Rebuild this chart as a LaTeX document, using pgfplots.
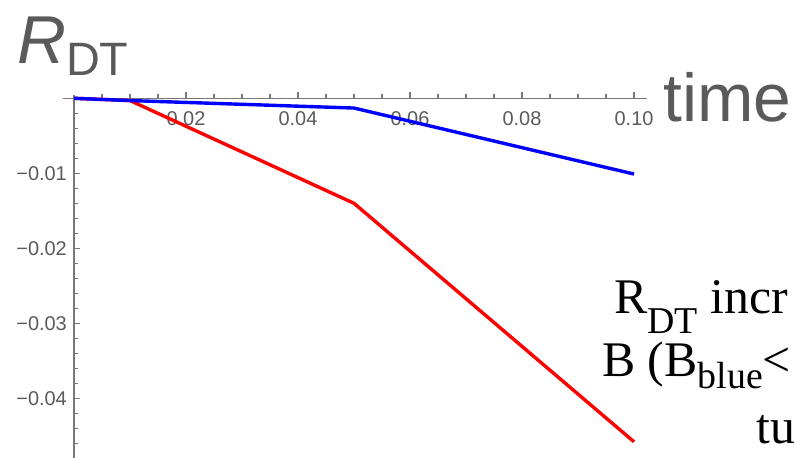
\documentclass[border=0pt]{standalone}
\usepackage{fontspec}
\setmainfont{Liberation Serif}
\newfontfamily\arial{Liberation Sans}
\usepackage{pgfplots}
\pgfplotsset{compat=1.18}
\definecolor{axgray}{RGB}{120,120,120}
\definecolor{labgray}{RGB}{90,90,90}
\definecolor{txtgray}{RGB}{90,90,90}
\begin{document}
\begin{tikzpicture}
\begin{axis}[
 set layers,
 at={(62.8bp,-458.3bp)}, anchor=south west,
 scale only axis, width=584.1bp, height=363.75bp,
 xmin=-0.002, xmax=0.1023, ymin=-0.048, ymax=0.0005,
 enlargelimits=false,
 axis lines=middle,
 axis line style={-, draw=axgray, line width=1.4bp},
 tick align=inside,
 major tick length=6.5bp, minor tick length=4bp,
 tick style={draw=axgray, line width=1.1bp},
 xtick={0.02,0.04,0.06,0.08,0.1},
 xticklabels={0.02,0.04,0.06,0.08,0.10},
 ytick={-0.04,-0.03,-0.02,-0.01},
 yticklabels={−0.04,−0.03,−0.02,−0.01},
 minor xtick={0.005,0.01,0.015,0.025,0.03,0.035,0.045,0.05,0.055,0.065,0.07,0.075,0.085,0.09,0.095},
 minor ytick={-0.048,-0.046,-0.044,-0.042,-0.038,-0.036,-0.034,-0.032,-0.028,-0.026,-0.024,-0.022,-0.018,-0.016,-0.014,-0.012,-0.008,-0.006,-0.004,-0.002},
 scaled ticks=false,
 xticklabel style={font=\arial\fontsize{20}{20}\selectfont, text=labgray, inner sep=0pt, anchor=north, yshift=-13bp},
 yticklabel style={font=\arial\fontsize{20}{20}\selectfont, text=labgray, inner sep=0pt, anchor=east, xshift=-7bp},
]
\addplot[draw={rgb,1:red,1;green,0;blue,0}, line width=3.4bp, line join=round] coordinates {
 (0,0) (0.01,-0.0003) (0.05,-0.014) (0.1,-0.0458)};
\addplot[draw={rgb,1:red,0;green,0;blue,1}, line width=3.4bp, line join=round] coordinates {
 (0,0) (0.01,-0.0003) (0.05,-0.0013) (0.1,-0.0101)};
\end{axis}
\node[anchor=base west, inner sep=0pt, text=txtgray, font=\arial] at (17bp,-63.3bp)
 {\fontsize{68}{68}\selectfont\itshape R\upshape\raisebox{-12bp}{\fontsize{47}{47}\selectfont DT}};
\node[anchor=base west, inner sep=0pt, text=txtgray, font=\arial] at (663bp,-121.7bp)
 {\fontsize{68}{68}\selectfont time};
\node[anchor=base west, inner sep=0pt] at (614bp,-313.3bp)
 {\fontsize{50}{50}\selectfont R\raisebox{-20bp}{\fontsize{38}{38}\selectfont DT} incr};
\node[anchor=base west, inner sep=0pt] at (602bp,-376.7bp)
 {\fontsize{50}{50}\selectfont B (B\raisebox{-11.6bp}{\fontsize{38}{38}\selectfont blue}<};
\node[anchor=base west, inner sep=0pt] at (756bp,-443.3bp)
 {\fontsize{50}{50}\selectfont tu};
\pgfresetboundingbox
\path[use as bounding box] (0,0) rectangle (795bp,-458bp);
\end{tikzpicture}
\end{document}
